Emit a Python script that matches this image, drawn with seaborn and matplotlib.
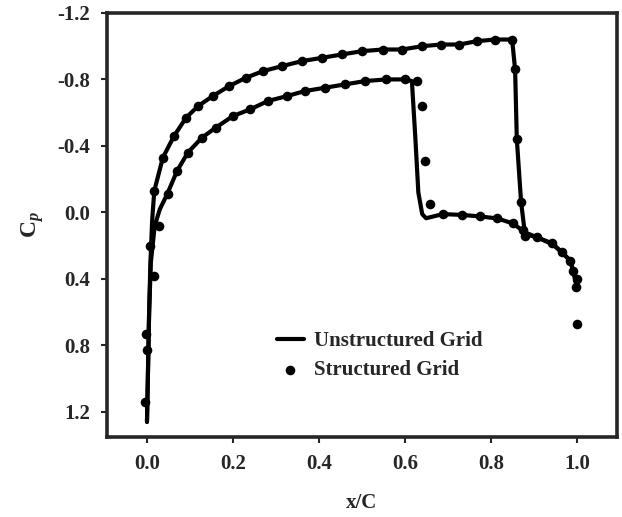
import numpy as np
import pandas as pd
import matplotlib
matplotlib.use("Agg")
import matplotlib.pyplot as plt
import seaborn as sns


# case A : shock near x/C = 0.85
xa_line = [0.000, 0.002, 0.005, 0.008, 0.012, 0.017, 0.037, 0.063, 0.091, 0.119,
           0.153, 0.191, 0.230, 0.270, 0.314, 0.360, 0.407, 0.453, 0.500, 0.549,
           0.593, 0.640, 0.684, 0.726, 0.767, 0.809, 0.849, 0.856, 0.860, 0.870,
           0.879, 0.907, 0.942, 0.965, 0.984, 0.991, 1.000]
cpa_line = [1.26, 1.00, 0.60, 0.30, 0.05, -0.13, -0.33, -0.46, -0.57, -0.64,
            -0.70, -0.76, -0.81, -0.85, -0.88, -0.91, -0.93, -0.95, -0.97, -0.98,
            -0.98, -1.00, -1.01, -1.01, -1.03, -1.04, -1.04, -0.86, -0.44, -0.06,
            0.13, 0.15, 0.19, 0.24, 0.29, 0.35, 0.45]

# case B : shock near x/C = 0.62
xb_line = [0.000, 0.002, 0.005, 0.009, 0.018, 0.030, 0.047, 0.070, 0.095, 0.128,
           0.160, 0.200, 0.240, 0.281, 0.326, 0.367, 0.414, 0.460, 0.507, 0.556,
           0.600, 0.616, 0.624, 0.631, 0.640, 0.649, 0.688, 0.733, 0.774, 0.814,
           0.851, 0.879, 0.907, 0.942, 0.965, 0.984, 0.991, 1.000]
cpb_line = [1.26, 1.00, 0.60, 0.30, 0.08, -0.02, -0.11, -0.25, -0.36, -0.45,
            -0.51, -0.58, -0.62, -0.67, -0.70, -0.73, -0.75, -0.77, -0.79, -0.80,
            -0.80, -0.79, -0.45, -0.12, 0.01, 0.035, 0.01, 0.015, 0.024, 0.036,
            0.066, 0.12, 0.15, 0.186, 0.24, 0.29, 0.35, 0.45]

# structured grid points
xa_pts = [-0.005, -0.002, 0.007, 0.016, 0.037, 0.063, 0.091, 0.119, 0.153, 0.191,
          0.230, 0.270, 0.314, 0.360, 0.407, 0.453, 0.500, 0.549, 0.593, 0.640,
          0.684, 0.726, 0.767, 0.809, 0.849, 0.856, 0.860, 0.870, 0.879]
cpa_pts = [1.14, 0.73, 0.20, -0.13, -0.33, -0.46, -0.57, -0.64, -0.70, -0.76,
           -0.81, -0.85, -0.88, -0.91, -0.93, -0.95, -0.97, -0.98, -0.98, -1.00,
           -1.01, -1.01, -1.03, -1.04, -1.04, -0.86, -0.44, -0.06, 0.14]

xb_pts = [0.000, 0.016, 0.028, 0.049, 0.070, 0.095, 0.128, 0.160, 0.200, 0.240,
          0.281, 0.326, 0.367, 0.414, 0.460, 0.507, 0.556, 0.600, 0.628, 0.640,
          0.647, 0.658, 0.688, 0.733, 0.774, 0.814, 0.851, 0.874, 0.907, 0.942,
          0.965, 0.984, 0.991, 1.000, 0.998, 1.000]
cpb_pts = [0.83, 0.38, 0.08, -0.11, -0.25, -0.36, -0.45, -0.51, -0.58, -0.62,
           -0.67, -0.70, -0.73, -0.75, -0.77, -0.79, -0.80, -0.80, -0.79, -0.64,
           -0.31, -0.05, 0.012, 0.018, 0.024, 0.036, 0.066, 0.108, 0.15, 0.186,
           0.24, 0.29, 0.35, 0.40, 0.45, 0.67]

xticks = [0.0, 0.2, 0.4, 0.6, 0.8, 1.0]
yticks = [-1.2, -0.8, -0.4, 0.0, 0.4, 0.8, 1.2]


sns.set_style("ticks")
plt.rcParams["font.family"] = ["Liberation Serif", "DejaVu Serif"]
plt.rcParams["font.weight"] = "bold"
plt.rcParams["mathtext.fontset"] = "custom"
plt.rcParams["mathtext.rm"] = "Liberation Serif:bold"
plt.rcParams["mathtext.it"] = "Liberation Serif:italic:bold"

fig = plt.figure(figsize=(6.22, 5.17), dpi=100)
ax = fig.add_axes([0.172, 0.155, 0.820, 0.820])

lineA = pd.DataFrame({"x": xa_line, "cp": cpa_line})
lineB = pd.DataFrame({"x": xb_line, "cp": cpb_line})
ptsA = pd.DataFrame({"x": xa_pts, "cp": cpa_pts})
ptsB = pd.DataFrame({"x": xb_pts, "cp": cpb_pts})

sns.lineplot(data=lineA, x="x", y="cp", sort=False, color="black", lw=3,
             ax=ax, label="Unstructured Grid")
sns.lineplot(data=lineB, x="x", y="cp", sort=False, color="black", lw=3, ax=ax)
sns.scatterplot(data=ptsA, x="x", y="cp", color="black", s=48, edgecolor="black",
                linewidth=0, ax=ax, label="Structured Grid", zorder=3)
sns.scatterplot(data=ptsB, x="x", y="cp", color="black", s=48, edgecolor="black",
                linewidth=0, ax=ax, zorder=3)

ax.set_xlim(-0.093, 1.093)
ax.set_ylim(1.35, -1.2)
ax.set_xticks(xticks)
ax.set_yticks(yticks)
ax.set_xticklabels([f"{t:.1f}" for t in xticks])
ax.set_yticklabels([f"{t:.1f}" for t in yticks])
ax.tick_params(labelsize=15, length=4, width=1.5, direction="out", pad=8)

for s in ax.spines.values():
    s.set_linewidth(2.6)
    s.set_visible(True)

ax.set_xlabel("x/C", fontsize=15, fontweight="bold", labelpad=14)
ax.set_ylabel(r"C$_{p}$", fontsize=17, fontweight="bold", labelpad=8)

ax.legend(loc="upper left", bbox_to_anchor=(0.333, 0.25), frameon=False,
          borderpad=0, borderaxespad=0, fontsize=15, handlelength=1.3,
          handletextpad=0.5, labelspacing=0.45, markerscale=1.0)

fig.savefig("out.png", dpi=100)
